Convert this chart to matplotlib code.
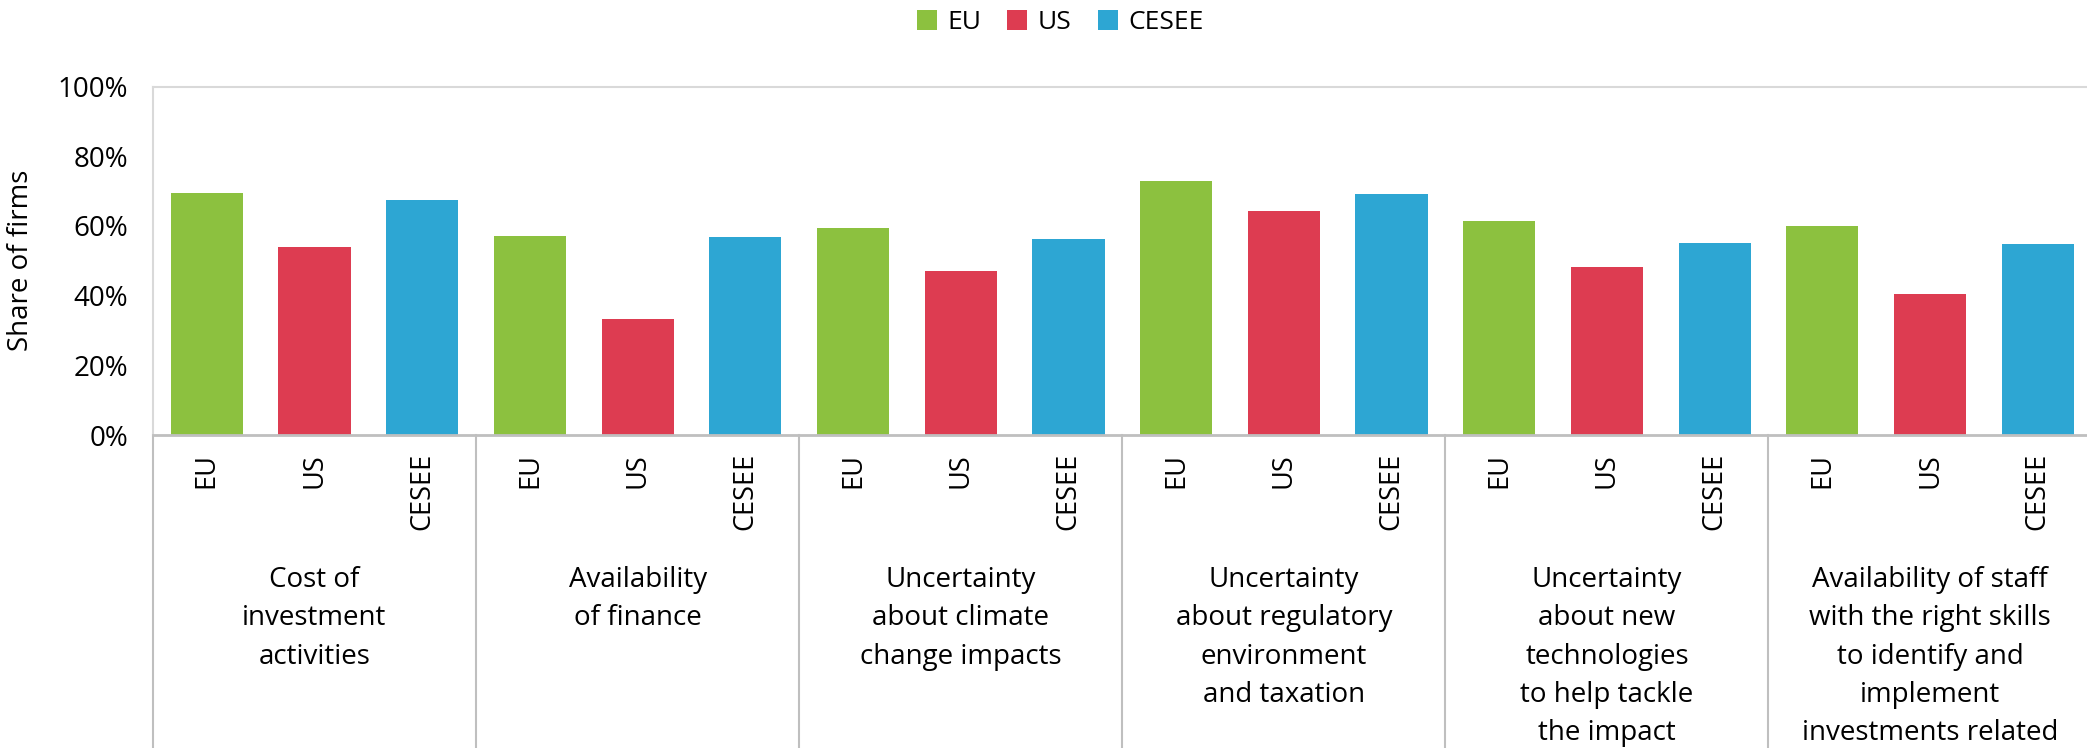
import matplotlib
matplotlib.use("Agg")
import matplotlib.pyplot as plt
from matplotlib.patches import Patch
from matplotlib.transforms import blended_transform_factory

plt.rcParams["font.family"] = ["Open Sans", "DejaVu Sans"]

regions = ["EU", "US", "CESEE"]
colors = ["#8CC13F", "#DD3C51", "#2DA6D3"]
groups = [
    "Cost of\ninvestment\nactivities",
    "Availability\nof finance",
    "Uncertainty\nabout climate\nchange impacts",
    "Uncertainty\nabout regulatory\nenvironment\nand taxation",
    "Uncertainty\nabout new\ntechnologies\nto help tackle\nthe impact",
    "Availability of staff\nwith the right skills\nto identify and\nimplement\ninvestments related",
]
eu = [69.5, 57.2, 59.3, 73.0, 61.5, 60.1]
us = [54.0, 33.3, 47.0, 64.4, 48.3, 40.5]
cesee = [67.3, 56.7, 56.3, 69.2, 55.1, 54.8]
yticks = [0, 20, 40, 60, 80, 100]


def main():
    W, H = 2087, 748
    fig = plt.figure(figsize=(W / 100, H / 100), dpi=100)
    fig.patch.set_facecolor("white")
    left, right, top, bottom = 153, 2087, 86.5, 435
    ax = fig.add_axes([left / W, (H - bottom) / H, (right - left) / W, (bottom - top) / H])

    series = [eu, us, cesee]
    xs, hs, cs, labels = [], [], [], []
    for g in range(len(groups)):
        for k, vals in enumerate(series):
            xs.append(g * 3 + k)
            hs.append(vals[g])
            cs.append(colors[k])
            labels.append(regions[k])
    ax.bar(xs, hs, width=0.67, color=cs, zorder=2)

    ax.set_ylim(0, 100)
    ax.set_xlim(-0.5, -0.5 + (right - left) / 107.7)
    ax.set_yticks(yticks)
    ax.set_yticklabels([f"{v}%" for v in yticks], fontsize=20)
    ax.set_xticks(xs)
    ax.set_xticklabels(labels, rotation=90, fontsize=19.5, va="top")
    ax.tick_params(axis="both", length=0)
    ax.tick_params(axis="y", pad=18)
    ax.tick_params(axis="x", pad=13)
    ax.set_ylabel("Share of firms", fontsize=20, labelpad=16)

    for side in ["top", "left", "right"]:
        ax.spines[side].set_color("#D9D9D9")
        ax.spines[side].set_linewidth(1.5)
    ax.spines["right"].set_visible(False)
    ax.spines["bottom"].set_color("#BFBFBF")
    ax.spines["bottom"].set_linewidth(2)

    # group separators below the axis
    sep = blended_transform_factory(ax.transData, fig.transFigure)
    for g in range(len(groups)):
        xsep = g * 3 - 0.5
        ax.plot([xsep, xsep], [(H - bottom) / H, -0.05], color="#BFBFBF", lw=1.5,
                transform=sep, clip_on=False)

    for g, name in enumerate(groups):
        ax.text(g * 3 + 1, (H - 566) / H, name, transform=sep, ha="center", va="top",
                fontsize=20, linespacing=1.49, color="#000000")

    handles = [Patch(facecolor=c, edgecolor="none") for c in colors]
    fig.legend(handles, regions, loc="upper center", bbox_to_anchor=(0.508, 1.018),
               ncol=3, frameon=False, fontsize=19, handlelength=0.75, handleheight=0.75,
               handletextpad=0.4, columnspacing=1.0)

    fig.savefig("out.png", dpi=100, facecolor="white")
    plt.close(fig)


if __name__ == "__main__":
    main()
